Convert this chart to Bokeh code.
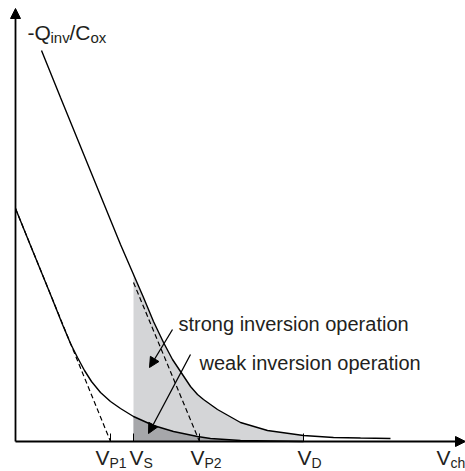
from bokeh.plotting import figure
from bokeh.models import Range1d, Arrow, NormalHead
from bokeh.core.properties import value
from bokeh.embed import file_html
from bokeh.resources import INLINE

# ---- data (x: channel voltage axis units, y: -Qinv/Cox height above axis) ----
strong_x = [41, 60, 80, 100, 120, 133, 143, 153, 163, 172, 182, 190, 197, 203, 217, 240, 267, 303, 333, 360, 390]
strong_y = [391, 344, 295, 246, 197, 167, 144, 120, 99, 82, 67, 55, 47, 42, 32, 19, 11, 6, 4, 3.5, 3]

weak_x = [15, 30, 50, 62, 70, 77, 84, 91, 100, 110, 120, 133, 153, 173, 197, 210, 240, 270, 303]
weak_y = [233, 196, 147, 117, 98, 84, 71, 60, 49, 40, 33, 25, 16, 10, 5, 3, 1, 0.5, 0]

tangent1_x = [15, 110]
tangent1_y = [233, 0]
tangent2_x = [133, 199]
tangent2_y = [159, 0]

tick_pos = [110, 133, 199, 303]
tick_main = ["V", "V", "V", "V", "V"]
tick_sub = ["P1", "S", "P2", "D", "ch"]
label_x = [95, 129, 190, 297, 436]

VS = 133
VD = 303

TEXT = "#231f20"
FONT = value("Liberation Sans")

p = figure(width=465, height=471, x_range=Range1d(0, 465), y_range=Range1d(-30, 441),
           min_border=0, toolbar_location=None, output_backend="svg",
           x_axis_location=None, y_axis_location=None)
p.grid.visible = False
p.outline_line_color = None
p.background_fill_color = "white"
p.border_fill_color = "white"

# shaded regions
sx = [x for x in strong_x if VS <= x <= VD]
sy = [y for x, y in zip(strong_x, strong_y) if VS <= x <= VD]
p.varea(x=sx, y1=[0] * len(sx), y2=sy, fill_color="#d4d5d7")
wx = [x for x in weak_x if x >= VS]
wy = [y for x, y in zip(weak_x, weak_y) if x >= VS]
p.varea(x=wx, y1=[0] * len(wx), y2=wy, fill_color="#a6a7aa")

# curves
p.line(strong_x, strong_y, line_color="black", line_width=1.4)
p.line(weak_x, weak_y, line_color="black", line_width=1.4)
p.line(tangent1_x, tangent1_y, line_color="black", line_width=1.2, line_dash="5 3")
p.line(tangent2_x, tangent2_y, line_color="black", line_width=1.2, line_dash="5 3")

# axes
p.add_layout(Arrow(end=NormalHead(size=10, fill_color="black", line_color="black"),
                   x_start=15, y_start=0, x_end=465, y_end=0, line_width=1.8, line_color="black"))
p.add_layout(Arrow(end=NormalHead(size=10, fill_color="black", line_color="black"),
                   x_start=15, y_start=0, x_end=15, y_end=433, line_width=1.8, line_color="black"))

# ticks
p.segment(x0=tick_pos, y0=[0] * len(tick_pos), x1=tick_pos, y1=[8] * len(tick_pos),
          line_color="black", line_width=1)

# tick labels
p.text(x=label_x, y=[-16] * len(label_x), text=tick_main, text_font=FONT, text_font_size="21px",
       text_color=TEXT, text_baseline="alphabetic", text_align="left")
p.text(x=[lx + 14 for lx in label_x], y=[-21] * len(label_x), text=tick_sub, text_font=FONT,
       text_font_size="14px", text_color=TEXT, text_baseline="alphabetic", text_align="left")

# y label: -Q_inv/C_ox
p.text(x=[27, 69], y=[409, 409], text=["-Q", "/C"], text_font=FONT, text_font_size="21px",
       text_color=TEXT, text_baseline="alphabetic")
p.text(x=[50, 90], y=[404, 404], text=["inv", "ox"], text_font=FONT, text_font_size="15px",
       text_color=TEXT, text_baseline="alphabetic")

# annotations
p.text(x=[178, 199], y=[118, 79], text=["strong inversion operation", "weak inversion operation"],
       text_font=FONT, text_font_size="20px", text_color=TEXT, text_baseline="alphabetic")
p.add_layout(Arrow(end=NormalHead(size=10, fill_color="black", line_color="black"),
                   x_start=172, y_start=112, x_end=149, y_end=74, line_width=1.3, line_color="black"))
p.add_layout(Arrow(end=NormalHead(size=10, fill_color="black", line_color="black"),
                   x_start=190, y_start=87, x_end=148, y_end=8, line_width=1.3, line_color="black"))

open("out.html", "w").write(file_html(p, INLINE))
